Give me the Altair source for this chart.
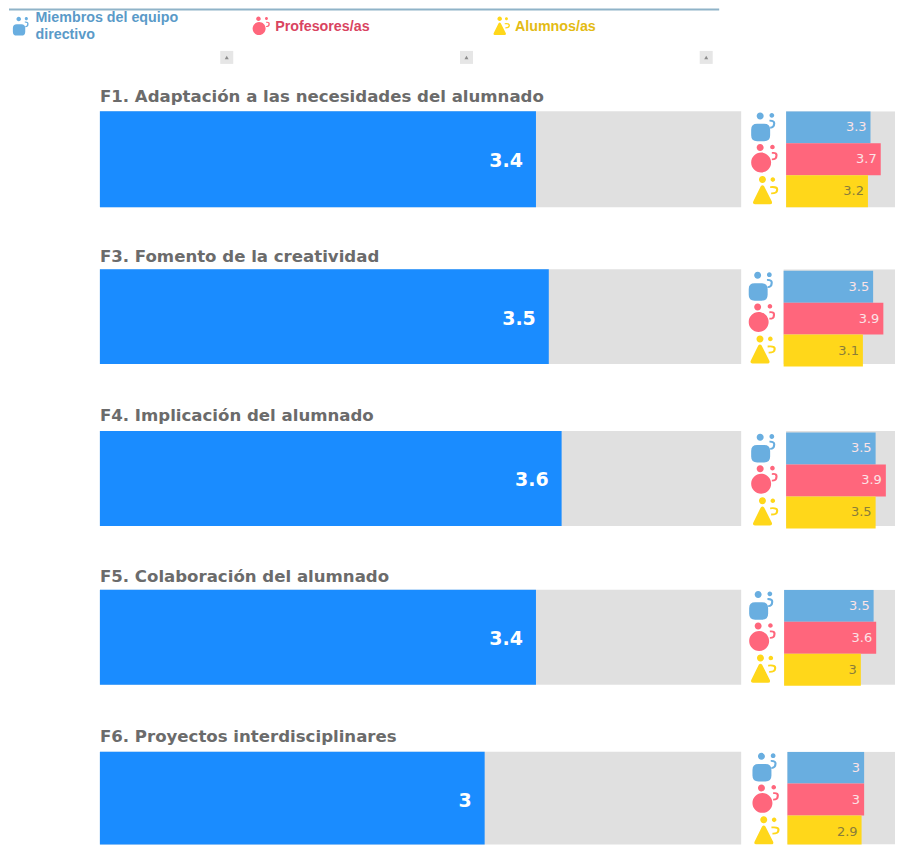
import altair as alt
import pandas as pd

factors = ["F1. Adaptación a las necesidades del alumnado", "F3. Fomento de la creatividad",
           "F4. Implicación del alumnado", "F5. Colaboración del alumnado",
           "F6. Proyectos interdisciplinares"]
overall = [3.4, 3.5, 3.6, 3.4, 3.0]
directivo = [3.3, 3.5, 3.5, 3.5, 3.0]
profesores = [3.7, 3.9, 3.9, 3.6, 3.0]
alumnos = [3.2, 3.1, 3.5, 3.0, 2.9]
groups = ["Miembros del equipo\ndirectivo", "Profesores/as", "Alumnos/as"]

FONT = "DejaVu Sans"
GROUP_COLORS = ["#69aee0", "#ff667c", "#ffd71a"]
LEGEND_COLORS = ["#5a9ac8", "#d9445f", "#e3bb14"]


def circle(cx, cy, r):
    return f"M{cx - r} {cy}A{r} {r} 0 1 1 {cx + r} {cy}A{r} {r} 0 1 1 {cx - r} {cy}Z"


def hook(a, b, c):
    return (f"M{a[0]} {a[1]}Q{b[0] + 1} {b[1] - 5} {b[0]} {b[1]}Q{b[0]} {b[1] + 4} {c[0]} {c[1]}"
            f"L{c[0]} {c[1] - 1.8}Q{b[0] - 2.2} {b[1] + 2.4} {b[0] - 2.2} {b[1]}"
            f"Q{b[0] - 1} {b[1] - 3} {a[0]} {a[1] + 1.8}Z")


ICON_PATHS = [
    circle(-5, -11.3, 3.5) + circle(6.7, -12, 2.4)
    + "M-8 -3.5L-1 -3.5Q5 -3.5 5 2.5L5 8Q5 14 -1 14L-8 14Q-14 14 -14 8L-14 2.5Q-14 -3.5 -8 -3.5Z"
    + hook((4.3, -7.7), (10, -3), (5, 1.3)),
    circle(-5, -11.7, 3.5) + circle(7.3, -12.3, 2.3) + circle(-4, 3.3, 10)
    + hook((6.7, -7.3), (12.3, -3), (6.7, 1)),
    circle(-2.7, -11.7, 3.5) + circle(7.7, -11.7, 2.3)
    + "M-4.4 -5Q-2.7 -7 -1 -5L6.6 10Q7.8 13 4.8 13L-10.2 13Q-13 13 -11.8 10Z"
    + hook((5, -5), (13, -1), (6, 3)),
]

color_scale = alt.Scale(domain=groups, range=GROUP_COLORS)
shape_scale = alt.Scale(domain=groups, range=ICON_PATHS)

# ---------- header ----------
legend_df = pd.DataFrame({"g": groups, "ink": LEGEND_COLORS})
x_head = alt.X("g:N", scale=alt.Scale(type="point", domain=groups, range=[13, 493], padding=0), axis=None)
head_line = alt.Chart(pd.DataFrame({"a": [0]})).mark_rule(color="#8fb3c8", strokeWidth=2).encode(
    x=alt.value(0), x2=alt.value(711), y=alt.value(1))
head_icons = alt.Chart(legend_df).mark_point(filled=True, opacity=1, size=1.7).encode(
    x=x_head, y=alt.value(18),
    shape=alt.Shape("g:N", scale=shape_scale, legend=None),
    color=alt.Color("g:N", scale=color_scale, legend=None))
text_mark = dict(align="left", baseline="middle", dx=13.5, font="Liberation Sans", fontWeight="bold",
                 fontSize=14.3, lineBreak="\n", lineHeight=17)
head_text_two = alt.Chart(legend_df.iloc[:1]).mark_text(**text_mark).encode(
    x=x_head, y=alt.value(9.5), text="g:N", color=alt.Color("ink:N", scale=None))
head_text_one = alt.Chart(legend_df.iloc[1:]).mark_text(**text_mark).encode(
    x=x_head, y=alt.value(18.5), text="g:N", color=alt.Color("ink:N", scale=None))
head_box = alt.Chart(legend_df).mark_point(
    filled=True, opacity=1, shape="square", size=169, color="#e6e6e6", xOffset=205).encode(
    x=x_head, y=alt.value(49))
head_tri = alt.Chart(legend_df).mark_point(
    filled=True, opacity=1, shape="triangle-up", size=16, color="#8c8c8c", xOffset=205).encode(
    x=x_head, y=alt.value(49))
header = alt.layer(head_line, head_box, head_tri, head_icons, head_text_two, head_text_one).properties(
    width=887, height=60)

# ---------- rows ----------
BIG_H = [96, 95, 95, 95, 93]
ROW_H = [117, 119, 118, 119, 93]
TITLE_OFF = [6, 4, 6, 4, 6]
SMALL_START = [38, 35.5, 38, 36, 39.3]
SMALL_TOP = [0, 1.5, 1.5, 0, 0]


def make_row(i):
    big_df = pd.DataFrame({"zero": [0], "full": [5], "v": [overall[i]]})
    bx = alt.Scale(domain=[0, 5], range=[91, 733])
    grey = alt.Chart(big_df).mark_rect(color="#e0e0e0").encode(
        x=alt.X("zero:Q", scale=bx, axis=None), x2="full:Q", y=alt.value(0), y2=alt.value(BIG_H[i]))
    bar = alt.Chart(big_df).mark_rect(color="#1a8cff").encode(
        x=alt.X("zero:Q", scale=bx, axis=None), x2="v:Q", y=alt.value(0), y2=alt.value(BIG_H[i]))
    lab = alt.Chart(big_df).mark_text(
        align="right", baseline="middle", dx=-13, font=FONT, fontWeight="bold", fontSize=19, color="white"
    ).encode(x=alt.X("v:Q", scale=bx, axis=None), y=alt.value(49.5),
             text=alt.Text("v:Q", format="~r"))
    big = alt.layer(grey, bar, lab).properties(
        width=733, height=ROW_H[i],
        title=alt.TitleParams(factors[i], anchor="start", dx=91, offset=TITLE_OFF[i], font=FONT,
                              fontSize=16.6, fontWeight="bold", color="#6b6b6b"))

    small_df = pd.DataFrame({"g": groups, "zero": 0, "full": 5,
                             "v": [directivo[i], profesores[i], alumnos[i]]})
    s0 = SMALL_START[i]
    sx = alt.Scale(domain=[0, 5], range=[s0, s0 + 128])
    top = SMALL_TOP[i]
    sy = alt.Y("g:N", axis=None, sort=groups,
               scale=alt.Scale(type="band", domain=groups, range=[top, top + 96], paddingInner=0, paddingOuter=0))
    s_grey = alt.Chart(small_df.head(1)).mark_rect(color="#e0e0e0", clip=True).encode(
        x=alt.X("zero:Q", scale=sx, axis=None), x2="full:Q", y=alt.value(0), y2=alt.value(BIG_H[i]))
    s_bar = alt.Chart(small_df).mark_bar(clip=True).encode(
        x=alt.X("zero:Q", scale=sx, axis=None), x2="v:Q", y=sy,
        color=alt.Color("g:N", scale=color_scale, legend=None))
    s_lab = alt.Chart(small_df).mark_text(
        align="right", baseline="middle", dx=-4, font=FONT, fontSize=13, clip=True).encode(
        x=alt.X("v:Q", scale=sx, axis=None), y=sy, text=alt.Text("v:Q", format="~r"),
        color=alt.condition(alt.datum.g == "Alumnos/as", alt.value("#8a7d3a"), alt.value("#fbe3e6")))
    s_icon = alt.Chart(small_df).mark_point(filled=True, opacity=1, size=4, clip=True).encode(
        x=alt.value(s0 - 21), y=sy,
        shape=alt.Shape("g:N", scale=shape_scale, legend=None),
        color=alt.Color("g:N", scale=color_scale, legend=None))
    small = alt.layer(s_grey, s_bar, s_lab, s_icon).properties(width=147, height=ROW_H[i])
    return alt.hconcat(big, small, spacing=7)


chart = alt.vconcat(header, *[make_row(i) for i in range(5)], spacing=20).properties(
    padding=0, background="white"
).configure_view(stroke=None).configure_concat(spacing=20)

chart.save("out.html", embed_options={"renderer": "svg", "actions": False})
